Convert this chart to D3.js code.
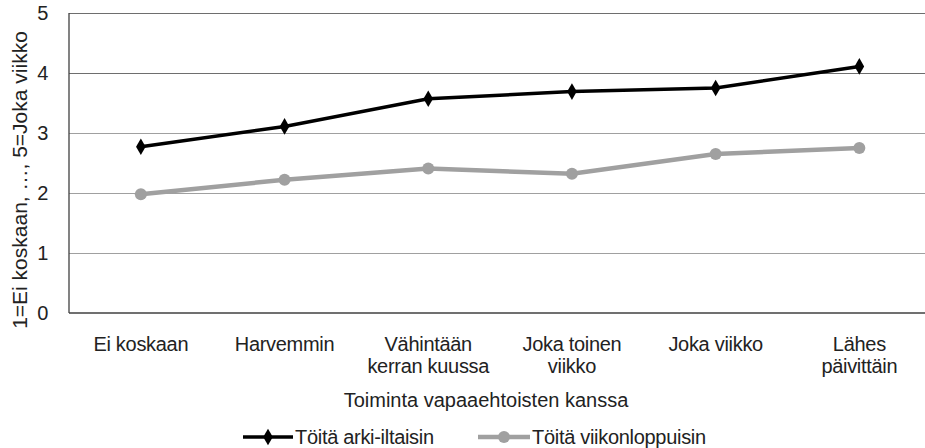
<!DOCTYPE html>
<html lang="fi">
<head>
<meta charset="utf-8">
<title>Toiminta vapaaehtoisten kanssa</title>
<script src="https://d3js.org/d3.v7.min.js"></script>
<style>
    body {
        margin: 0;
        background-color: #ffffff;
    }
    svg text {
        font-family: "Liberation Sans", Arial, sans-serif;
        fill: #222222;
        letter-spacing: -0.3px;
    }
</style>
</head>
<body>
<svg id="chart" width="925" height="448"></svg>
<script>
// categories on x axis (line breaks as in the original)
var categories = [
    ["Ei koskaan"],
    ["Harvemmin"],
    ["Vähintään", "kerran kuussa"],
    ["Joka toinen", "viikko"],
    ["Joka viikko"],
    ["Lähes", "päivittäin"]
];
var arkiIltaisin = [2.77, 3.11, 3.57, 3.69, 3.75, 4.11];
var viikonloppuisin = [1.98, 2.22, 2.41, 2.32, 2.65, 2.75];
var yTicks = [0, 1, 2, 3, 4, 5];
var seriesNames = ["Töitä arki-iltaisin", "Töitä viikonloppuisin"];

var svg = d3.select("#chart");
var plotLeft = 69, plotTop = 13, plotBottom = 313, band = 143.7;

var x = d3.scaleBand()
    .domain(d3.range(categories.length))
    .range([plotLeft, plotLeft + band * categories.length]);

var y = d3.scaleLinear()
    .domain([0, 5])
    .range([plotBottom, plotTop]);

// gridlines
svg.append("g")
    .selectAll("line")
    .data(yTicks.slice(1))
    .join("line")
    .attr("x1", plotLeft)
    .attr("x2", 925)
    .attr("y1", d => Math.round(y(d)) + 0.5)
    .attr("y2", d => Math.round(y(d)) + 0.5)
    .attr("stroke", d => d >= 4 ? "#6e6e6e" : "#a0a0a0")
    .attr("stroke-width", 1);

// axes lines
svg.append("line")
    .attr("x1", plotLeft).attr("x2", plotLeft)
    .attr("y1", plotTop).attr("y2", plotBottom)
    .attr("stroke", "#404040").attr("stroke-width", 1.3);
svg.append("line")
    .attr("x1", plotLeft).attr("x2", 925)
    .attr("y1", plotBottom).attr("y2", plotBottom)
    .attr("stroke", "#404040").attr("stroke-width", 1.3);

// y tick labels
svg.append("g")
    .selectAll("text")
    .data(yTicks)
    .join("text")
    .attr("x", 48)
    .attr("y", d => y(d) + 7)
    .attr("text-anchor", "end")
    .attr("font-size", 20)
    .text(d => d);

// y axis title
svg.append("text")
    .attr("transform", "translate(27,180) rotate(-90)")
    .attr("text-anchor", "middle")
    .attr("font-size", 21)
    .style("letter-spacing", "0px")
    .text("1=Ei koskaan, …, 5=Joka viikko");

// x category labels
var xl = svg.append("g")
    .selectAll("text")
    .data(categories)
    .join("text")
    .attr("x", (d, i) => x(i) + x.bandwidth() / 2)
    .attr("y", 351)
    .attr("text-anchor", "middle")
    .attr("font-size", 20);
xl.selectAll("tspan")
    .data(d => d)
    .join("tspan")
    .attr("x", function() { return d3.select(this.parentNode).attr("x"); })
    .attr("dy", (d, i) => i === 0 ? 0 : 22)
    .text(d => d);

// x axis title
svg.append("text")
    .attr("x", 486)
    .attr("y", 407)
    .attr("text-anchor", "middle")
    .attr("font-size", 20)
    .style("letter-spacing", "0px")
    .text("Toiminta vapaaehtoisten kanssa");

var line = d3.line()
    .x((d, i) => x(i) + x.bandwidth() / 2)
    .y(d => y(d));

var diamond = d3.symbol().type(d3.symbolDiamond).size(80);

// series 2 (gray, circles)
svg.append("path")
    .datum(viikonloppuisin)
    .attr("d", line)
    .attr("fill", "none")
    .attr("stroke", "#a0a0a0")
    .attr("stroke-width", 4.5);
svg.append("g")
    .selectAll("circle")
    .data(viikonloppuisin)
    .join("circle")
    .attr("cx", (d, i) => x(i) + x.bandwidth() / 2)
    .attr("cy", d => y(d))
    .attr("r", 6)
    .attr("fill", "#a0a0a0");

// series 1 (black, diamonds)
svg.append("path")
    .datum(arkiIltaisin)
    .attr("d", line)
    .attr("fill", "none")
    .attr("stroke", "#000000")
    .attr("stroke-width", 3.5);
svg.append("g")
    .selectAll("path")
    .data(arkiIltaisin)
    .join("path")
    .attr("d", diamond)
    .attr("transform", (d, i) => "translate(" + (x(i) + x.bandwidth() / 2) + "," + y(d) + ")")
    .attr("fill", "#000000");

// legend
var ly = 437;
var lg = svg.append("g");
lg.append("line").attr("x1", 243).attr("x2", 293).attr("y1", ly).attr("y2", ly)
    .attr("stroke", "#000").attr("stroke-width", 3.5);
lg.append("path").attr("d", diamond).attr("transform", "translate(268," + ly + ")").attr("fill", "#000");
lg.append("text").attr("x", 295).attr("y", ly + 7).attr("font-size", 20).text(seriesNames[0]);

lg.append("line").attr("x1", 478).attr("x2", 530).attr("y1", ly).attr("y2", ly)
    .attr("stroke", "#a0a0a0").attr("stroke-width", 4.5);
lg.append("circle").attr("cx", 504).attr("cy", ly).attr("r", 6).attr("fill", "#a0a0a0");
lg.append("text").attr("x", 532).attr("y", ly + 7).attr("font-size", 20).text(seriesNames[1]);
</script>
</body>
</html>
